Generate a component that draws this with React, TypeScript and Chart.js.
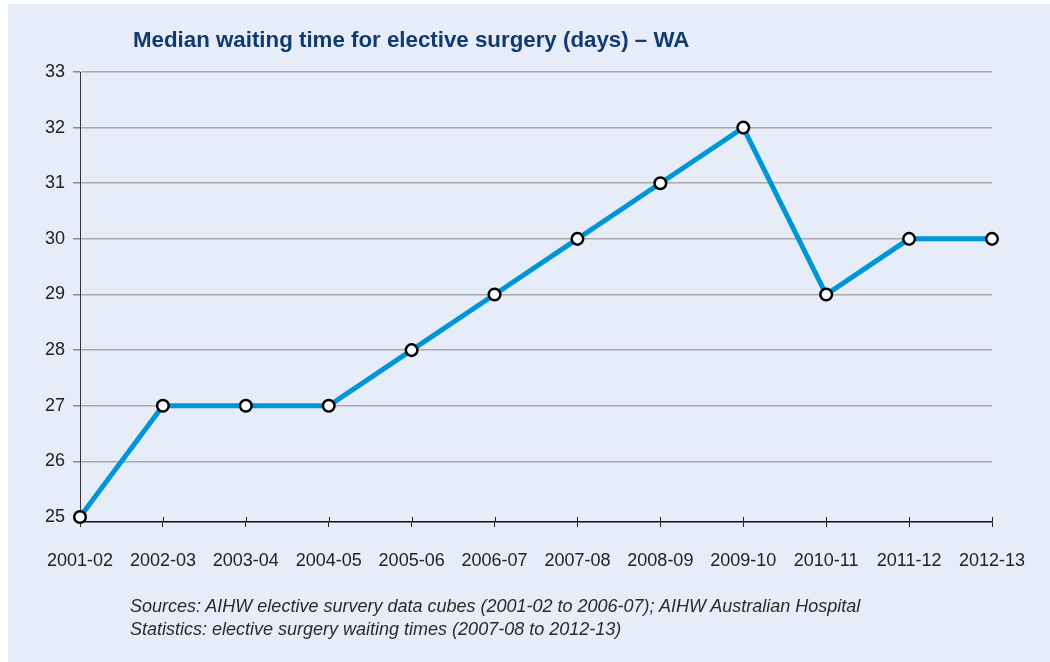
import React, { useEffect, useRef } from "react";
import { Chart, registerables } from "chart.js";

Chart.register(...registerables);

const categories: string[] = [
  "2001-02", "2002-03", "2003-04", "2004-05", "2005-06", "2006-07",
  "2007-08", "2008-09", "2009-10", "2010-11", "2011-12", "2012-13",
];
const waitingDays: number[] = [25, 27, 27, 27, 28, 29, 30, 31, 32, 29, 30, 30];
const yTickValues: number[] = [25, 26, 27, 28, 29, 30, 31, 32, 33];
const yMin = 24.91;
const yMax = 33;

const titleText = "Median waiting time for elective surgery (days) \u2013 WA";
const sourceLines: string[] = [
  "Sources: AIHW elective survery data cubes (2001-02 to 2006-07); AIHW Australian Hospital",
  "Statistics: elective surgery waiting times (2007-08 to 2012-13)",
];

const W = 1042;
const H = 658;

const crossTicks = {
  id: "crossTicks",
  beforeDatasetsDraw(chart: any) {
    const xs = chart.scales.x;
    const ctx = chart.ctx;
    const bottom = chart.chartArea.bottom;
    ctx.save();
    ctx.strokeStyle = "#222";
    ctx.lineWidth = 1;
    for (let i = 0; i < xs.ticks.length; i++) {
      const x = Math.round(xs.getPixelForTick(i)) + 0.5;
      ctx.beginPath();
      ctx.moveTo(x, bottom - 5);
      ctx.lineTo(x, bottom);
      ctx.stroke();
    }
    ctx.restore();
  },
};

export default function App() {
  const ref = useRef<HTMLCanvasElement | null>(null);

  useEffect(() => {
    if (!ref.current) return;
    const font = { family: "'Liberation Sans', Arial, sans-serif", size: 18 };
    const chart = new Chart(ref.current, {
      type: "line",
      data: {
        labels: categories,
        datasets: [
          {
            data: waitingDays,
            borderColor: "#0096d6",
            borderWidth: 5,
            pointRadius: 5.8,
            pointHoverRadius: 5.8,
            pointBorderWidth: 2.5,
            pointBackgroundColor: "#ffffff",
            pointBorderColor: "#000000",
            tension: 0,
            clip: false as any,
          },
        ],
      },
      plugins: [crossTicks],
      options: {
        responsive: false,
        animation: false,
        devicePixelRatio: 1,
        layout: { padding: { top: 68, right: 58, bottom: 0, left: 0 } },
        plugins: {
          legend: { display: false },
          title: { display: false },
          tooltip: { enabled: false },
        },
        scales: {
          x: {
            type: "category",
            offset: false,
            grid: {
              display: true,
              drawOnChartArea: false,
              drawTicks: true,
              tickLength: 5,
              tickColor: "#222",
              lineWidth: 1,
            },
            border: { display: true, color: "#111", width: 1.5 },
            ticks: {
              color: "#222",
              font,
              padding: 23,
              maxRotation: 0,
              autoSkip: false,
            },
            afterFit: (s: any) => {
              s.height = 140;
            },
          },
          y: {
            type: "linear",
            min: yMin,
            max: yMax,
            afterBuildTicks: (s: any) => {
              s.ticks = yTickValues.map((v) => ({ value: v }));
            },
            grid: {
              color: (c: any) =>
                c.tick && c.tick.value === yTickValues[0] ? "rgba(0,0,0,0)" : "#a8aaae",
              lineWidth: 1.5,
              tickLength: 7,
              tickColor: "#8a8a8a",
            },
            border: { display: true, color: "#333", width: 1 },
            ticks: {
              color: "#222",
              font,
              padding: 8,
              callback: (v: any) => String(v),
            },
            afterFit: (s: any) => {
              s.width = 72;
            },
          },
        },
      },
    });
    return () => chart.destroy();
  }, []);

  return (
    <div
      style={{
        position: "fixed",
        left: 8,
        top: 4,
        width: W,
        height: H,
        background: "#e6ecf8",
        overflow: "hidden",
      }}
    >
      <canvas
        ref={ref}
        width={W}
        height={H}
        style={{ position: "absolute", left: 0, top: 0, width: W, height: H }}
      />
      <div
        style={{
          position: "absolute",
          left: 125,
          top: 23,
          fontFamily: "'Liberation Sans', Arial, sans-serif",
          fontWeight: "bold",
          fontSize: 22.3,
          lineHeight: "26px",
          color: "#0f3b6e",
          whiteSpace: "nowrap",
        }}
      >
        {titleText}
      </div>
      <div
        style={{
          position: "absolute",
          left: 122,
          top: 591,
          fontFamily: "'Liberation Sans', Arial, sans-serif",
          fontStyle: "italic",
          fontSize: 18,
          lineHeight: "23px",
          color: "#2a2a2a",
          whiteSpace: "nowrap",
        }}
      >
        {sourceLines.map((l, i) => (
          <div key={i}>{l}</div>
        ))}
      </div>
    </div>
  );
}
